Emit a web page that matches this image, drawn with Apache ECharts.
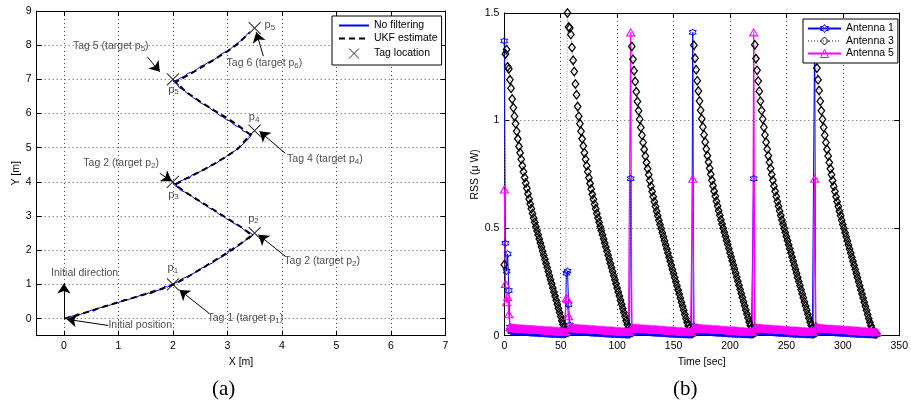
<!DOCTYPE html>
<html>
<head>
<meta charset="utf-8">
<script src="https://cdn.jsdelivr.net/npm/echarts@6/dist/echarts.min.js"></script>
<style>
  html, body { margin: 0; padding: 0; background: #fff; }
  #chart { width: 911px; height: 410px; }
</style>
</head>
<body>
<div id="chart"></div>
<script>
const FONT = '"Liberation Sans", Arial, Helvetica, sans-serif';

// ---------- (a) trajectory ----------
const xTicksA = [0, 1, 2, 3, 4, 5, 6, 7];
const yTicksA = [0, 1, 2, 3, 4, 5, 6, 7, 8, 9];

// "No filtering" (raw, jagged)
const rawPath = [
  [0.02,0],[0.1,0.06],[0.18,0.08],[0.25,0.14],[0.3,0.12],[0.38,0.18],[0.45,0.2],[0.5,0.25],[0.55,0.22],
  [0.62,0.3],[0.7,0.33],[0.78,0.36],[0.85,0.4],[0.9,0.42],[0.97,0.46],[1.05,0.5],[1.1,0.55],[1.18,0.55],
  [1.25,0.6],[1.32,0.62],[1.4,0.68],[1.48,0.7],[1.55,0.75],[1.6,0.73],[1.68,0.8],[1.75,0.84],[1.82,0.86],
  [1.85,0.95],[1.9,0.92],[1.95,0.97],[2.0,1.0],
  [2.05,1.05],[2.1,1.08],[2.15,1.15],[2.22,1.2],[2.3,1.25],[2.35,1.3],[2.42,1.36],[2.5,1.42],[2.52,1.48],
  [2.58,1.5],[2.65,1.58],[2.72,1.62],[2.8,1.72],[2.87,1.78],[2.95,1.85],[3.0,1.9],[3.05,2.05],[3.08,1.98],
  [3.15,2.08],[3.22,2.15],[3.3,2.25],[3.35,2.32],[3.42,2.38],[3.47,2.45],
  [3.45,2.5],[3.38,2.55],[3.3,2.6],[3.25,2.68],[3.18,2.75],[3.12,2.78],[3.05,2.88],[3.0,2.9],[2.92,3.0],
  [2.85,3.05],[2.8,3.12],[2.72,3.2],[2.65,3.25],[2.6,3.32],[2.55,3.35],[2.48,3.45],[2.4,3.5],[2.35,3.58],
  [2.3,3.62],[2.22,3.7],[2.15,3.75],[2.1,3.82],[2.05,3.88],[2.0,3.95],
  [2.05,3.95],[2.1,4.0],[2.18,4.05],[2.25,4.12],[2.3,4.1],[2.35,4.2],[2.42,4.25],[2.5,4.3],[2.58,4.38],
  [2.65,4.42],[2.72,4.5],[2.8,4.55],[2.88,4.65],[2.95,4.7],[3.0,4.78],[3.08,4.85],[3.15,4.92],[3.2,5.0],
  [3.27,5.08],[3.32,5.15],[3.38,5.25],[3.42,5.32],[3.45,5.4],
  [3.35,5.45],[3.28,5.5],[3.25,5.58],[3.18,5.62],[3.1,5.7],[3.05,5.78],[2.98,5.82],[2.92,5.9],[2.85,5.95],
  [2.78,6.05],[2.72,6.1],[2.65,6.2],[2.58,6.25],[2.5,6.32],[2.45,6.4],[2.38,6.45],[2.32,6.55],[2.25,6.6],
  [2.2,6.7],[2.12,6.75],[2.08,6.85],[2.05,6.9],[2.0,6.95],
  [2.08,6.98],[2.15,7.05],[2.22,7.1],[2.28,7.18],[2.32,7.2],[2.38,7.22],[2.45,7.3],[2.5,7.38],[2.58,7.42],
  [2.65,7.5],[2.72,7.55],[2.8,7.62],[2.85,7.7],[2.9,7.75],[2.98,7.82],[3.05,7.88],[3.1,7.95],[3.18,8.05],
  [3.22,8.1],[3.3,8.2],[3.38,8.35],[3.42,8.4]
];

// UKF estimate
const ukfPath = [
  [0,0],[0.25,0.1],[0.5,0.23],[0.75,0.36],[1,0.48],[1.25,0.6],[1.5,0.72],[1.75,0.85],[1.9,0.93],[2.02,1.0],
  [2.25,1.2],[2.5,1.44],[2.75,1.68],[3,1.93],[3.25,2.2],[3.45,2.44],
  [3.25,2.68],[3,2.93],[2.75,3.18],[2.5,3.43],[2.25,3.68],[2.04,3.92],
  [2.25,4.1],[2.5,4.3],[2.75,4.52],[3,4.76],[3.2,4.98],[3.42,5.38],
  [3.2,5.65],[3,5.86],[2.75,6.1],[2.5,6.35],[2.25,6.62],[2.05,6.92],
  [2.25,7.1],[2.5,7.33],[2.75,7.57],[3,7.82],[3.2,8.05],[3.4,8.36]
];

const tagX = [2, 3.5, 2, 3.5, 2, 3.5];
const tagY = [1, 2.5, 4, 5.5, 7, 8.5];

// p_i labels next to the tags
const pLabelX = [2.0, 3.48, 2.01, 3.49, 2.01, 3.78];
const pLabelY = [1.45, 2.9, 3.6, 5.86, 6.67, 8.56];
const pLabelSub = ['1', '2', '3', '4', '5', '5'];

// annotation texts
const noteText = ['Tag 1 (target p', 'Tag 2 (target p', 'Tag 2 (target p', 'Tag 4 (target p',
                  'Tag 5 (target p', 'Tag 6 (target p', 'Initial direction', 'Initial position'];
const noteSub  = ['1', '2', '2', '4', '5', '6', '', ''];
const noteX    = [3.33, 4.74, 1.05, 4.79, 0.86, 3.68, 0.38, 1.40];
const noteY    = [-0.02, 1.65, 4.52, 4.64, 7.93, 7.45, 1.31, -0.23];

// arrows: tail -> head
const arrowFrom = [[2.66,0.16],[4.06,1.83],[1.76,4.25],[4.06,4.84],[1.53,7.66],[3.66,7.68],[0,0],[0.81,-0.2]];
const arrowTo   = [[2.12,0.84],[3.57,2.45],[1.98,4.02],[3.59,5.48],[1.76,7.22],[3.53,8.38],[0,1.03],[0.05,-0.02]];

// ---------- (b) RSS ----------
const RSS_LAST_T = 330;

const ant1Start = [0, 55, 112, 167, 221, 275];
const ant1Head = [
  [1.37, 0.43, 0.30, 0.38, 0.21, 0.04],
  [0.29, 0.30, 0.145, 0.05],
  [0.73, 0.035],
  [1.41, 0.045],
  [0.73, 0.04],
  [1.41, 0.045]
];
const ant1Floor = [
  0.020,0.020,0.019,0.019,0.019,0.018,0.018,0.018,0.017,0.017,
  0.016,0.016,0.016,0.015,0.015,0.015,0.014,0.014,0.013,0.013,
  0.013,0.012,0.012,0.012,0.011,0.011,0.011,0.010,0.010,0.010,
  0.009,0.009,0.009,0.008,0.008,0.008,0.007,0.007,0.007,0.007,
  0.006,0.006,0.006,0.006,0.005,0.005,0.005,0.005,0.005,0.004,
  0.004,0.004,0.004,0.004,0.004,0.004
];

const ant5Start = [0, 55, 112, 167, 221, 275];
const ant5Head = [
  [0.68, 0.24, 0.155, 0.18, 0.10, 0.04],
  [0.175, 0.17, 0.09, 0.04],
  [1.41],
  [0.73],
  [1.41],
  [0.73]
];
const ant5Floor = [
  0.037,0.036,0.036,0.035,0.035,0.034,0.034,0.034,0.033,0.033,
  0.032,0.032,0.032,0.031,0.031,0.031,0.030,0.030,0.029,0.029,
  0.029,0.028,0.028,0.028,0.027,0.027,0.026,0.026,0.026,0.025,
  0.025,0.025,0.024,0.024,0.023,0.023,0.023,0.022,0.022,0.022,
  0.021,0.021,0.020,0.020,0.020,0.019,0.019,0.019,0.018,0.018,
  0.017,0.017,0.017,0.016,0.016,0.016
];

const ant3Start = [0, 56, 113, 167, 221, 275];
const ant3Seg = [
  [0.33,1.31,1.33,1.25,1.24,1.19,1.15,1.10,1.06,1.02,0.985,0.95,0.915,0.88,0.85,0.82,0.79,0.762,0.735,0.71,
   0.685,0.66,0.635,0.612,0.59,0.568,0.547,0.527,0.507,0.488,0.469,0.45,0.431,0.412,0.393,0.374,0.355,0.336,
   0.317,0.298,0.279,0.26,0.241,0.222,0.203,0.184,0.165,0.146,0.127,0.108,0.089,0.07,0.052,0.036,0.024,0.016],
  [1.50,1.435,1.43,1.40,1.34,1.28,1.228,1.17,1.12,1.065,1.02,0.985,0.95,0.915,0.882,0.85,0.82,0.79,0.762,0.734,
   0.708,0.682,0.657,0.634,0.611,0.59,0.568,0.547,0.527,0.507,0.488,0.469,0.45,0.431,0.412,0.393,0.374,0.355,
   0.336,0.317,0.298,0.279,0.26,0.241,0.222,0.203,0.184,0.165,0.146,0.127,0.108,0.089,0.07,0.052,0.036,0.024,0.016],
  [1.344,1.285,1.232,1.182,1.134,1.089,1.046,1.006,0.968,0.932,0.898,0.866,0.835,0.805,0.776,0.748,0.721,0.695,
   0.67,0.646,0.623,0.601,0.579,0.558,0.537,0.517,0.498,0.479,0.46,0.441,0.422,0.403,0.384,0.365,0.346,0.327,
   0.308,0.289,0.27,0.251,0.232,0.213,0.194,0.175,0.156,0.137,0.118,0.099,0.08,0.062,0.046,0.032,0.022,0.015],
  [0.012,1.35,1.29,1.236,1.185,1.137,1.091,1.048,1.008,0.97,0.934,0.9,0.868,0.837,0.807,0.778,0.75,0.723,0.697,
   0.672,0.648,0.625,0.603,0.581,0.56,0.539,0.519,0.5,0.481,0.462,0.443,0.424,0.405,0.386,0.367,0.348,0.329,
   0.31,0.291,0.272,0.253,0.234,0.215,0.196,0.177,0.158,0.139,0.12,0.101,0.082,0.064,0.048,0.033,0.022],
  [0.012,1.352,1.288,1.234,1.184,1.136,1.09,1.047,1.007,0.969,0.933,0.899,0.867,0.836,0.806,0.777,0.749,0.722,
   0.696,0.671,0.647,0.624,0.602,0.58,0.559,0.538,0.518,0.499,0.48,0.461,0.442,0.423,0.404,0.385,0.366,0.347,
   0.328,0.309,0.29,0.271,0.252,0.233,0.214,0.195,0.176,0.157,0.138,0.119,0.1,0.081,0.063,0.047,0.032,0.021],
  [0.012,1.34,1.244,1.19,1.14,1.09,1.046,1.006,0.968,0.932,0.898,0.866,0.835,0.805,0.776,0.748,0.721,0.695,
   0.67,0.646,0.623,0.601,0.579,0.558,0.537,0.517,0.498,0.479,0.46,0.441,0.422,0.403,0.384,0.365,0.346,0.327,
   0.308,0.289,0.27,0.251,0.232,0.213,0.194,0.175,0.156,0.137,0.118,0.099,0.08,0.062,0.046,0.032,0.022,0.015,
   0.01,0.01]
];

// ---------- helpers ----------
function segLen(starts, i) {
  return (i + 1 < starts.length ? starts[i + 1] : RSS_LAST_T + 1) - starts[i];
}
function spikeSeries(starts, heads, floor) {
  const out = [];
  starts.forEach((t0, i) => {
    heads[i].concat(floor).slice(0, segLen(starts, i)).forEach((v, j) => out.push([t0 + j, v]));
  });
  return out;
}
function segSeries(starts, segs) {
  const out = [];
  starts.forEach((t0, i) => {
    segs[i].slice(0, segLen(starts, i)).forEach((v, j) => out.push([t0 + j, v]));
  });
  return out;
}

const TXT = { color: '#000', fontSize: 10.5, fontFamily: FONT };
const GRID_LINE = { show: true, lineStyle: { color: '#555', width: 1, type: [1, 3] } };
const AX_LINE = { show: true, onZero: false, lineStyle: { color: '#000', width: 1 } };

function mainAxis(grid, pos, range, name, nameGap, ticks) {
  const ax = {
    gridIndex: grid, type: 'value', position: pos, min: range[0], max: range[1],
    name, nameLocation: 'middle', nameGap, nameTextStyle: TXT,
    axisLine: AX_LINE,
    axisTick: { show: true, inside: true, length: 5, lineStyle: { color: '#000' } },
    axisLabel: Object.assign({ margin: 5 }, TXT),
    splitLine: GRID_LINE
  };
  if (Array.isArray(ticks)) {
    ax.axisTick.customValues = ticks;
    ax.axisLabel.customValues = ticks;
  } else {
    ax.interval = ticks;
  }
  return ax;
}
function boxAxis(grid, pos, range, ticks) {
  const ax = {
    gridIndex: grid, type: 'value', position: pos, min: range[0], max: range[1],
    axisLine: AX_LINE,
    axisTick: { show: true, inside: true, length: 5, lineStyle: { color: '#000' } },
    axisLabel: { show: false },
    splitLine: { show: false }
  };
  if (Array.isArray(ticks)) ax.axisTick.customValues = ticks;
  else ax.interval = ticks;
  return ax;
}

const STAR = 'path://M0,-10L2.9,-5L8.66,-5L5.77,0L8.66,5L2.9,5L0,10L-2.9,5L-8.66,5L-5.77,0L-8.66,-5L-2.9,-5Z';
const CROSS = 'path://M0,0L10,10M10,0L0,10';
const HOLLOW = 'rgba(0,0,0,0)';

const chart = echarts.init(document.getElementById('chart'), null, { renderer: 'canvas' });

chart.setOption({
  animation: false,
  backgroundColor: '#fff',
  textStyle: { fontFamily: FONT },
  title: [
    { text: '(a)', left: 212, top: 379, padding: 0,
      textStyle: { fontFamily: '"Liberation Serif", "Times New Roman", serif', fontSize: 21, fontWeight: 'normal', color: '#000' } },
    { text: '(b)', left: 673, top: 379, padding: 0,
      textStyle: { fontFamily: '"Liberation Serif", "Times New Roman", serif', fontSize: 21, fontWeight: 'normal', color: '#000' } }
  ],
  grid: [
    { left: 36.7, top: 11, width: 408.6, height: 324.7 },
    { left: 504.3, top: 13, width: 396.4, height: 322.7 }
  ],
  legend: [
    { data: [
        { name: 'No filtering', itemStyle: { opacity: 0 } },
        { name: 'UKF estimate', itemStyle: { opacity: 0 } },
        { name: 'Tag location', itemStyle: { color: 'none', borderColor: '#000', borderWidth: 1 } }
      ],
      orient: 'vertical',
      left: 332, top: 16, itemWidth: 30, itemHeight: 10, itemGap: 2,
      padding: [4, 4, 4, 6], backgroundColor: '#fff', borderColor: '#000', borderWidth: 1,
      textStyle: TXT, selectedMode: false },
    { data: [
        { name: 'Antenna 1', itemStyle: { color: HOLLOW, borderColor: '#0000ff', borderWidth: 1 } },
        { name: 'Antenna 3', itemStyle: { color: HOLLOW, borderColor: '#000', borderWidth: 1 } },
        { name: 'Antenna 5', itemStyle: { color: HOLLOW, borderColor: '#ff00ff', borderWidth: 1 } }
      ],
      orient: 'vertical',
      left: 803, top: 19, itemWidth: 33, itemHeight: 10, itemGap: 1.5,
      padding: [4, 4, 4, 4], backgroundColor: '#fff', borderColor: '#000', borderWidth: 1,
      textStyle: TXT, selectedMode: false }
  ],
  xAxis: [
    mainAxis(0, 'bottom', [-0.5, 7], 'X [m]', 18, xTicksA),
    boxAxis(0, 'top', [-0.5, 7], xTicksA),
    mainAxis(1, 'bottom', [0, 350], 'Time [sec]', 18, 50),
    boxAxis(1, 'top', [0, 350], 50)
  ],
  yAxis: [
    mainAxis(0, 'left', [-0.5, 9], 'Y [m]', 14, yTicksA),
    boxAxis(0, 'right', [-0.5, 9], yTicksA),
    mainAxis(1, 'left', [0, 1.5], 'RSS (\u03bc W)', 23, 0.5),
    boxAxis(1, 'right', [0, 1.5], 0.5)
  ],
  series: [
    { name: 'No filtering', type: 'line', xAxisIndex: 0, yAxisIndex: 0, data: rawPath,
      symbol: 'none', lineStyle: { color: '#0000ff', width: 1 }, itemStyle: { color: '#0000ff' }, z: 3 },
    { name: 'UKF estimate', type: 'line', xAxisIndex: 0, yAxisIndex: 0, data: ukfPath,
      symbol: 'none', lineStyle: { color: '#000', width: 2, type: [6, 4] }, itemStyle: { color: '#000' }, z: 4 },
    { name: 'Tag location', type: 'scatter', xAxisIndex: 0, yAxisIndex: 0,
      data: tagX.map((x, i) => [x, tagY[i]]),
      symbol: CROSS, symbolSize: 12,
      itemStyle: { color: 'none', borderColor: '#000', borderWidth: 1.1 }, z: 5 },
    { type: 'scatter', xAxisIndex: 0, yAxisIndex: 0, silent: true,
      data: pLabelX.map((x, i) => [x, pLabelY[i], pLabelSub[i]]),
      symbolSize: 0.1, itemStyle: { color: HOLLOW },
      label: { show: true, position: 'inside',
        formatter: (p) => '{p|p}{s|' + p.value[2] + '}',
        rich: {
          p: { fontSize: 11, color: '#222', fontFamily: FONT, lineHeight: 13, verticalAlign: 'top' },
          s: { fontSize: 8, color: '#222', fontFamily: FONT, lineHeight: 13, verticalAlign: 'top', padding: [4, 0, 0, 0] }
        } }, z: 6 },
    { type: 'scatter', xAxisIndex: 0, yAxisIndex: 0, silent: true,
      data: noteX.map((x, i) => [x, noteY[i], i]),
      symbolSize: 0.1, itemStyle: { color: HOLLOW },
      label: { show: true, position: 'inside',
        formatter: (p) => {
          const i = p.value[2];
          return noteSub[i] ? '{t|' + noteText[i] + '}{s|' + noteSub[i] + '}{t|)}' : '{t|' + noteText[i] + '}';
        },
        rich: {
          t: { fontSize: 10.5, color: '#222', fontFamily: FONT, lineHeight: 13, verticalAlign: 'top' },
          s: { fontSize: 8, color: '#222', fontFamily: FONT, lineHeight: 13, verticalAlign: 'top', padding: [4, 0, 0, 0] }
        } }, z: 6 },
    { type: 'lines', coordinateSystem: 'cartesian2d', xAxisIndex: 0, yAxisIndex: 0, silent: true,
      symbol: ['none', 'arrow'], symbolSize: 10,
      lineStyle: { color: '#000', width: 1, opacity: 1, curveness: 0 },
      data: arrowFrom.map((p, i) => ({ coords: [p, arrowTo[i]] })), z: 7 },

    { name: 'Antenna 1', type: 'line', xAxisIndex: 2, yAxisIndex: 2,
      data: spikeSeries(ant1Start, ant1Head, ant1Floor),
      symbol: STAR, symbolSize: 7, showAllSymbol: true,
      lineStyle: { color: '#0000ff', width: 1 },
      itemStyle: { color: HOLLOW, borderColor: '#0000ff', borderWidth: 1 } },
    { name: 'Antenna 3', type: 'line', xAxisIndex: 2, yAxisIndex: 2,
      data: segSeries(ant3Start, ant3Seg),
      symbol: 'diamond', symbolSize: [6.5, 8.5], showAllSymbol: true,
      lineStyle: { color: '#888', width: 1, type: [1, 2] },
      itemStyle: { color: HOLLOW, borderColor: '#000', borderWidth: 1.3 } },
    { name: 'Antenna 5', type: 'line', xAxisIndex: 2, yAxisIndex: 2,
      data: spikeSeries(ant5Start, ant5Head, ant5Floor),
      symbol: 'triangle', symbolSize: [8, 7], showAllSymbol: true,
      lineStyle: { color: '#ff00ff', width: 1.2 },
      itemStyle: { color: HOLLOW, borderColor: '#ff00ff', borderWidth: 1.1 } }
  ]
});
</script>
</body>
</html>
